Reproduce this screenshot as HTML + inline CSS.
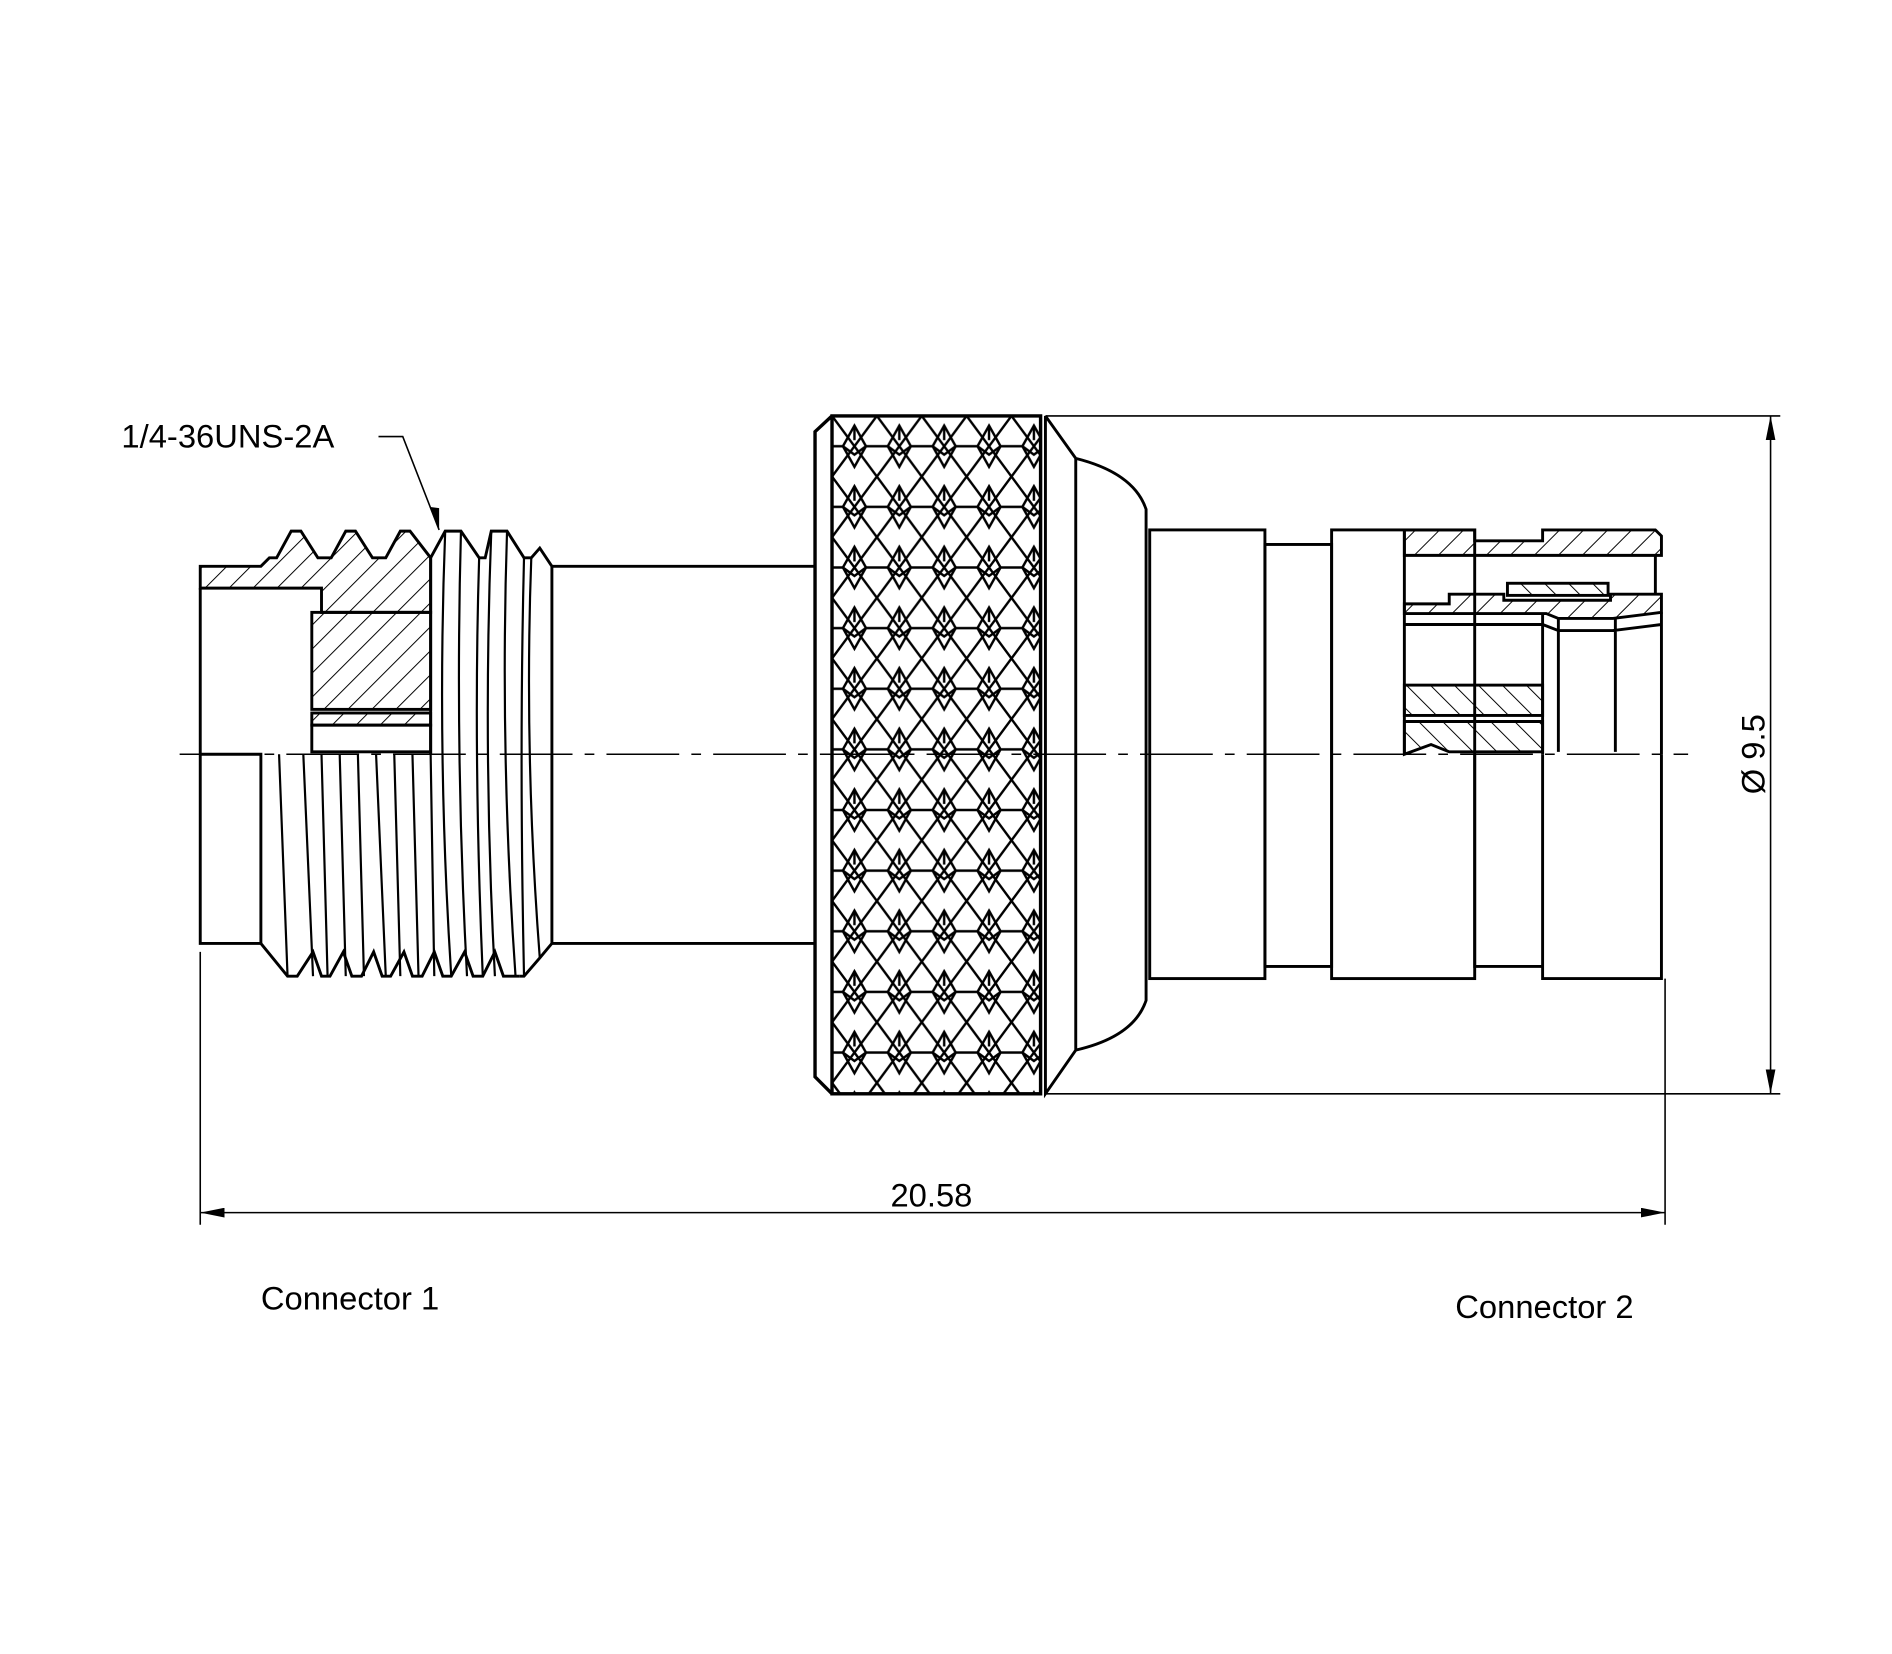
<!DOCTYPE html>
<html><head><meta charset="utf-8"><style>
html,body{margin:0;padding:0;background:#fff}
svg{display:block}
text{font-family:"Liberation Sans",sans-serif;fill:#000}
</style></head><body>
<svg width="1892" height="1654" viewBox="0 0 1560 1364" xmlns="http://www.w3.org/2000/svg">
<defs>
<pattern id="h" width="14" height="14" patternUnits="userSpaceOnUse" patternTransform="rotate(45)">
<line x1="0" y1="0" x2="0" y2="14" stroke="#000" stroke-width="1.6"/>
</pattern>
<pattern id="h2" width="14" height="14" patternUnits="userSpaceOnUse" patternTransform="rotate(-45)">
<line x1="0" y1="0" x2="0" y2="14" stroke="#000" stroke-width="1.6"/>
</pattern>
<pattern id="k" x="686" y="343" width="37" height="50" patternUnits="userSpaceOnUse">
<g fill="none" stroke="#000" stroke-width="2">
<path d="M0,0 L37,50 M37,0 L0,50"/>
<path d="M18.5,8 L28,25 L18.5,42 L9,25 Z"/>
<path d="M18.5,8 L18.5,20 M9,25 L18.5,32 L28,25 M0,25 L9,25 M28,25 L37,25"/>
</g>
</pattern>
<marker id="ar" viewBox="0 0 20 8" refX="20" refY="4" markerWidth="20" markerHeight="8" orient="auto-start-reverse" markerUnits="userSpaceOnUse">
<path d="M0,0 L20,4 L0,8 Z" fill="#000"/>
</marker>
</defs>
<g stroke="#000" stroke-width="2.4" fill="none">
<line x1="148" y1="622" x2="1392" y2="622" stroke-width="1.2" stroke-dasharray="60,10,8,10"/>
<path d="M165,467 L215,467 L222,460 L228,460 L240,438 L248,438 L262,460 L273,460 L285,438 L293,438 L307,460 L318,460 L330,438 L338,438 L355,460 L355,505 L265,505 L265,485 L165,485 Z" fill="url(#h)"/>
<rect x="257" y="505" width="98" height="80" fill="url(#h)"/>
<rect x="257" y="588" width="98" height="10" fill="url(#h)"/>
<rect x="257" y="598" width="98" height="22"/>
<path d="M165,485 L165,778 L215,778 M165,622 L215,622 L215,778"/>
<path d="M355,460 L367,438 L380,438 L395,460 L400,460 L405,438 L418,438 L432,460 L438,460 L445,452 L455,467 L455,778 L445,790 L432,805 L428,805 M355,460 L355,622"/>
<g stroke-width="1.8">
<path d="M367,438 Q360,620 372,805 M380,438 Q375,620 385,805 M395,460 Q390,620 398,805 M405,438 Q398,620 408,805 M418,438 Q412,620 425,805 M432,460 Q428,620 432,805 M438,460 Q432,620 445,790"/>
<path d="M230,622 L237,805 M250,622 L258,805 M265,622 L270,805 M280,622 L285,805 M295,622 L300,805 M310,622 L318,805 M325,622 L330,805 M340,622 L345,805 M355,622 L358,805"/>
</g>
<path d="M215,778 L237,805 L245,805 L258,785 L265,805 L272,805 L283,785 L290,805 L298,805 L308,785 L315,805 L322,805 L333,785 L340,805 L348,805 L358,785 L365,805 L372,805 L383,785 L390,805 L398,805 L408,785 L415,805 L428,805"/>
<path d="M455,467 L672,467 M455,778 L672,778"/>
<rect x="686" y="343" width="172" height="559" fill="url(#k)"/>
<path d="M686,343 L672,356 L672,888 L686,902 M686,343 L858,343 L858,902 L686,902 Z" stroke-width="2.8"/>
<path d="M862,343 L887,378 Q935,390 945,420 L945,825 Q935,855 887,866 L862,902 L862,343 M887,378 L887,866"/>
<rect x="948" y="437" width="95" height="370"/>
<rect x="1043" y="449" width="55" height="348"/>
<rect x="1098" y="437" width="118" height="370"/>
<path d="M1216,622 L1216,797 L1272,797 M1272,622 L1272,807 L1370,807 L1370,622"/>
<path d="M1158,437 L1158,622"/>
<path d="M1158,437 L1216,437 L1216,446 L1272,446 L1272,437 L1365,437 L1370,442 L1370,458 L1158,458 Z" fill="url(#h)"/>
<path d="M1158,498 L1195,498 L1195,490 L1240,490 L1240,495 L1328,495 L1328,490 L1370,490 L1370,505 L1330,510 L1285,510 L1275,506 L1158,506 Z" fill="url(#h)"/>
<rect x="1243" y="481" width="83" height="10" fill="url(#h2)"/>
<path d="M1158,515 L1272,515 L1285,520 L1330,520 L1370,515 M1272,506 L1272,622 M1285,510 L1285,620 M1332,510 L1332,620 M1365,458 L1365,490 M1370,505 L1370,622"/>
<rect x="1158" y="565" width="114" height="25" fill="url(#h2)"/>
<path d="M1158,595 L1272,595 L1272,620 L1195,620 L1180,614 L1158,622 Z" fill="url(#h2)"/>
<g stroke-width="1.3">
<path d="M862,343 L1468,343 M862,902 L1468,902"/>
<line x1="1460" y1="343" x2="1460" y2="902" marker-start="url(#ar)" marker-end="url(#ar)"/>
<path d="M165,785 L165,1010 M1373,807 L1373,1010"/>
<line x1="165" y1="1000" x2="1373" y2="1000" marker-start="url(#ar)" marker-end="url(#ar)"/>
<path d="M312,360 L332,360 L362,437"/>
</g>
<path d="M362,437 L354,418 L362,419 Z" fill="#000" stroke="none"/>
</g>
<text x="100" y="369" font-size="27">1/4-36UNS-2A</text>
<text x="768" y="995" font-size="27" text-anchor="middle">20.58</text>
<text x="215" y="1080" font-size="27">Connector 1</text>
<text x="1200" y="1087" font-size="27">Connector 2</text>
<text transform="translate(1455,622) rotate(-90)" font-size="27" text-anchor="middle">Ø 9.5</text>
</svg>
</body></html>
